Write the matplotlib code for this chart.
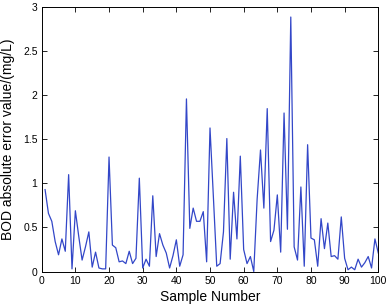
import numpy as np
import matplotlib
matplotlib.use("Agg")
import matplotlib.pyplot as plt

plt.rcParams['font.family'] = ['Liberation Sans', 'DejaVu Sans']

# BOD absolute error per sample
sample = np.arange(1, 101)
bod_err = [0.93, 0.66, 0.57, 0.34, 0.19, 0.37, 0.23, 1.10, 0.03, 0.69,
           0.40, 0.13, 0.28, 0.45, 0.05, 0.22, 0.04, 0.03, 0.03, 1.30,
           0.30, 0.27, 0.11, 0.12, 0.09, 0.23, 0.09, 0.15, 1.06, 0.04,
           0.14, 0.06, 0.86, 0.17, 0.43, 0.30, 0.21, 0.04, 0.18, 0.36,
           0.06, 0.19, 1.96, 0.49, 0.72, 0.57, 0.57, 0.68, 0.11, 1.63,
           0.85, 0.06, 0.09, 0.45, 1.51, 0.14, 0.90, 0.37, 1.31, 0.25,
           0.09, 0.17, 0.00, 0.82, 1.38, 0.72, 1.85, 0.34, 0.47, 0.87,
           0.22, 1.80, 0.48, 2.89, 0.28, 0.13, 0.96, 0.06, 1.44, 0.38,
           0.36, 0.06, 0.60, 0.26, 0.55, 0.17, 0.18, 0.14, 0.62, 0.15,
           0.02, 0.05, 0.02, 0.14, 0.05, 0.10, 0.17, 0.04, 0.37, 0.21]
xticks = list(range(0, 101, 10))
yticks = [0, 0.5, 1, 1.5, 2, 2.5, 3]
ytick_labels = ["0", "0.5", "1", "1.5", "2", "2.5", "3"]

fig = plt.figure(figsize=(3.88, 3.07), dpi=100)
ax = fig.add_axes([0.1075, 0.1156, 0.8675, 0.8605])
ax.plot(sample, bod_err, color="#3347c8", lw=0.9)

ax.set_xlim(0, 100); ax.set_ylim(0, 3)
ax.set_xticks(xticks)
ax.set_yticks(yticks); ax.set_yticklabels(ytick_labels)
ax.tick_params(direction="in", top=True, right=True, length=3.5, width=0.6,
               labelsize=7.5, pad=3)
for s in ax.spines.values():
    s.set_linewidth(0.7)
ax.set_xlabel("Sample Number", fontsize=10, labelpad=3)
ax.set_ylabel("BOD absolute error value/(mg/L)", fontsize=10, labelpad=6)
fig.savefig("out.png", dpi=100)
